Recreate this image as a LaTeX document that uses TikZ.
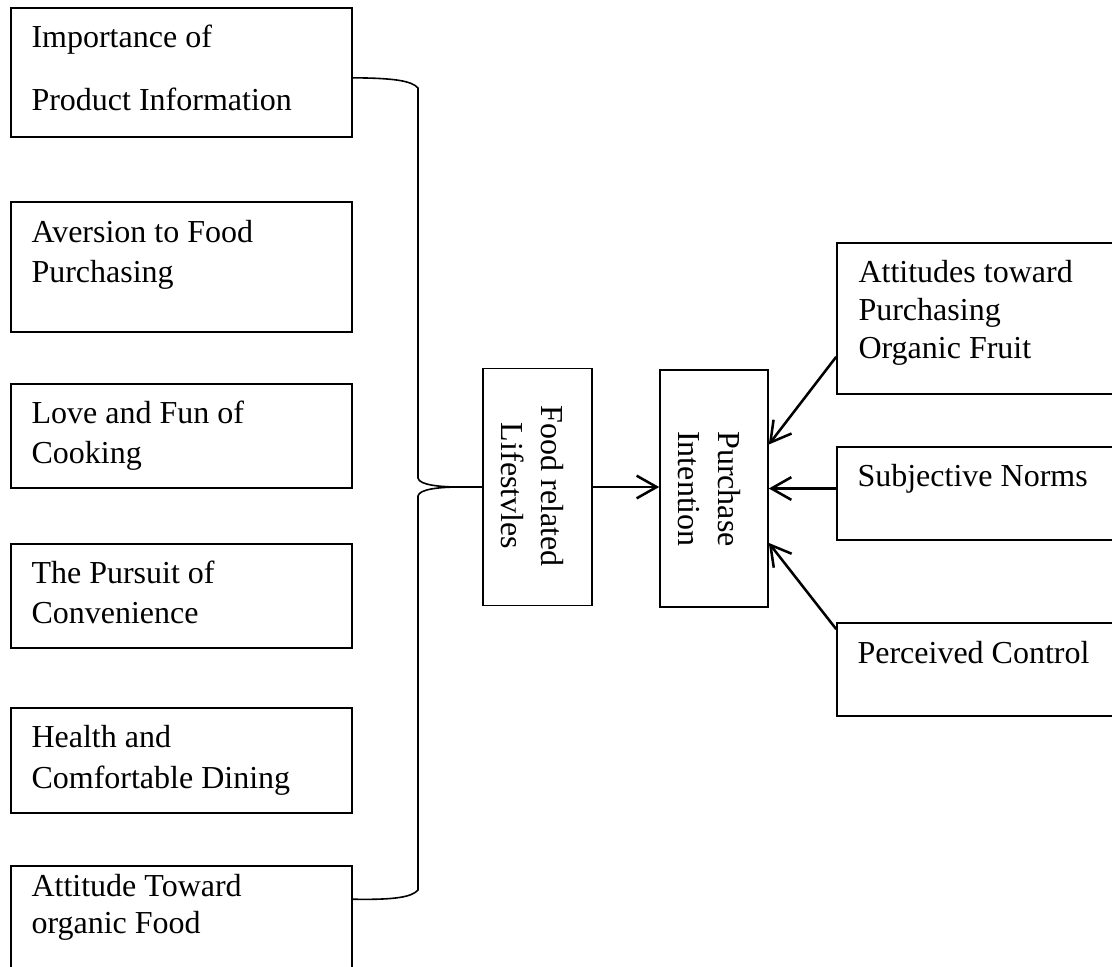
\documentclass[tikz,border=0pt]{standalone}
\usepackage{fontspec}
\setmainfont{Liberation Serif}
\usetikzlibrary{arrows.meta,calc}
\begin{document}
\begin{tikzpicture}[x=0.375pt,y=-0.375pt,
  box/.style={draw,line width=0.6pt,inner sep=0pt},
  txt/.style={anchor=north west,inner sep=0pt,align=left,font=\fontsize{12}{15}\selectfont},
  rtxt/.style={rotate=-90,inner sep=0pt,align=center,font=\fontsize{12}{15}\selectfont},
  conn/.style={line width=0.6pt},
  arr/.style={line width=0.95pt,-{Straight Barb[length=7.5pt,width=8.5pt,line width=0.95pt]}}]
\useasboundingbox (0,0) rectangle (1112,966);
% left boxes
\node[box,minimum width=127.875pt,minimum height=48.375pt] (b1) at (181.5,72.5) {};
\node[box,minimum width=127.875pt,minimum height=48.75pt] (b2) at (181.5,267) {};
\node[box,minimum width=127.875pt,minimum height=39pt] (b3) at (181.5,436) {};
\node[box,minimum width=127.875pt,minimum height=39pt] (b4) at (181.5,596) {};
\node[box,minimum width=127.875pt,minimum height=39.375pt] (b5) at (181.5,760.5) {};
\node[box,minimum width=127.875pt,minimum height=48.75pt] (b6) at (181.5,931) {};
\node[txt,font=\fontsize{12}{23.6}\selectfont] (t1) at (31,23) {\rule{0pt}{9pt}Importance of\\Product Information};
\node[txt] (t2) at (31,218) {\rule{0pt}{9pt}Aversion to Food\\Purchasing};
\node[txt] (t3) at (31,399) {\rule{0pt}{9pt}Love and Fun of\\Cooking};
\node[txt] (t4) at (31,559) {\rule{0pt}{9pt}The Pursuit of\\Convenience};
\node[txt,font=\fontsize{12}{15.4}\selectfont] (t5) at (31,723) {\rule{0pt}{9pt}Health and\\Comfortable Dining};
\node[txt,font=\fontsize{12}{13.9}\selectfont] (t6) at (31,872) {\rule{0pt}{9pt}Attitude Toward\\organic Food};
% middle boxes
\node[box,minimum width=40.875pt,minimum height=88.875pt] (fr) at (537.5,487) {};
\node[rtxt] (frt) at (532,486) {Food related\\Lifestvles};
\node[box,minimum width=40.5pt,minimum height=88.875pt] (pi) at (714,488.5) {};
\node[rtxt] (pit) at (709,489) {Purchase\\Intention};
% right boxes
\node[box,minimum width=106.125pt,minimum height=56.625pt] (r1) at (978.5,318.5) {};
\node[box,minimum width=106.125pt,minimum height=34.875pt] (r2) at (978.5,493.5) {};
\node[box,minimum width=106.125pt,minimum height=34.875pt] (r3) at (978.5,669.5) {};
\node[txt,font=\fontsize{12}{14.25}\selectfont] (rt1) at (858,258) {\rule{0pt}{9pt}Attitudes toward\\Purchasing\\Organic Fruit};
\node[txt] (rt2) at (857,462) {\rule{0pt}{9pt}Subjective Norms};
\node[txt] (rt3) at (857,639) {\rule{0pt}{9pt}Perceived Control};
% brace
\draw[conn] ([yshift=-2pt]b1.east) .. controls (395,78) and (412,81) .. (418,88)
  -- (418,478) .. controls (419,485) and (440,487) .. (460,487) -- (fr.west);
\draw[conn] ([yshift=-12.75pt]b6.north east) .. controls (395,900) and (412,897) .. (418,890)
  -- (418,496) .. controls (419,489) and (440,487) .. (460,487) -- (fr.west);
% arrows
\draw[arr] (fr.east) -- (fr.east -| pi.west);
\draw[arr] ([yshift=14.25pt]r1.south west) -- ([yshift=16.5pt]pi.east);
\draw[arr] (r2.west |- pi.east) -- (pi.east);
\draw[arr] ([yshift=-2.6pt]r3.north west) -- ([yshift=-20.4pt]pi.east);
\end{tikzpicture}
\end{document}
